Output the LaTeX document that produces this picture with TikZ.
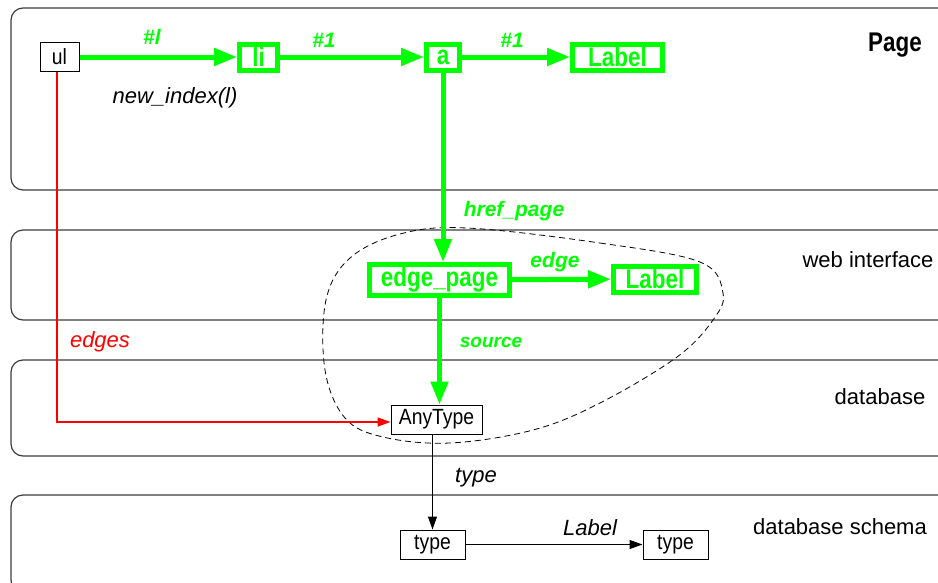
\documentclass[tikz,border=0pt]{standalone}
\usepackage{fontspec}
\setmainfont{Liberation Sans}
\newfontfamily\nodefont[FakeStretch=0.88]{Liberation Sans}
\newfontfamily\gboxfont[FakeStretch=0.83]{Liberation Sans}
\usetikzlibrary{arrows.meta}
\definecolor{grn}{RGB}{0,255,0}
\definecolor{rd}{RGB}{255,0,0}
\definecolor{lay}{RGB}{60,60,60}
\newcommand{\fs}[1]{\fontsize{#1}{#1}\selectfont}
\tikzset{
  layer/.style={draw=lay, line width=1.2pt, rounded corners=12pt},
  plainbox/.style={draw=black, line width=1pt, fill=white, inner sep=0pt, font=\nodefont\fs{22}, anchor=center},
  greenbox/.style={draw=grn, line width=5pt, fill=white, inner sep=0pt, text=grn, font=\gboxfont\fs{27}\bfseries, anchor=center},
  greenarrow/.style={draw=grn, line width=5pt, -{Triangle[length=23pt,width=17pt]}},
  blackarrow/.style={draw=black, line width=1pt, -{Triangle[length=13pt,width=9pt]}},
  redarrow/.style={draw=rd, line width=1.4pt, -{Triangle[length=13pt,width=9pt]}},
  glabel/.style={text=grn, font=\fs{21}\bfseries\itshape},
  ilabel/.style={font=\fs{22}\itshape},
  ltitle/.style={font=\fs{22}},
}
\begin{document}
\begin{tikzpicture}[x=1pt,y=-1pt]
\clip (0,0) rectangle (938,582);
\fill[white] (0,0) rectangle (938,582);
% layers
\draw[layer] (11,8) rectangle (950,190);
\draw[layer] (11,230) rectangle (950,320);
\draw[layer] (11,360) rectangle (950,456);
\draw[layer] (11,495) rectangle (950,592);
\node[font=\gboxfont\fs{27}\bfseries] (tpage) at (895,45) {Page};
\node[ltitle] (tweb) at (868,260) {web interface};
\node[ltitle] (tdb) at (880,397) {database};
\node[ltitle] (tschema) at (840,527) {database schema};
% dashed blob
\draw[dashed, line width=0.8pt, dash pattern=on 6pt off 4pt] plot[smooth cycle, tension=0.6] coordinates {
 (467,228) (600,243) (700,262) (723,293) (713,320) (677,357) (600,403) (533,430)
 (450,443) (383,437) (345,418) (325,370) (326,300) (350,258) (400,234)};
% nodes
\node[plainbox, minimum width=39pt, minimum height=29pt] (ul) at (59.5,57) {ul};
\node[greenbox, minimum width=38pt, minimum height=26pt] (li) at (258.5,57) {li};
\node[greenbox, minimum width=33pt, minimum height=26pt] (a) at (443,57) {a};
\node[greenbox, minimum width=90pt, minimum height=26pt] (lab1) at (617.5,57) {Label\hspace{12pt}};
\node[greenbox, minimum width=140pt, minimum height=31pt] (ep) at (439.5,280) {edge\_page};
\node[greenbox, minimum width=83pt, minimum height=26pt] (lab2) at (655,279) {Label\hspace{6pt}};
\node[plainbox, minimum width=91pt, minimum height=29pt] (any) at (436.5,419.5) {AnyType};
\node[plainbox, minimum width=65pt, minimum height=29pt] (ty1) at (432.5,544.5) {type};
\node[plainbox, minimum width=65pt, minimum height=29pt] (ty2) at (675.5,544.5) {type};
% red edge
\coordinate (rc) at (57,422);
\draw[redarrow] (ul.south -| rc) -- (rc) -- (any.west |- rc);
% green arrows
\draw[greenarrow] (ul) -- (li);
\draw[greenarrow] (li) -- (a);
\draw[greenarrow] (a) -- (lab1);
\draw[greenarrow] (a.south) -- (ep.north -| a.south);
\draw[greenarrow] (ep) -- (lab2);
\draw[greenarrow] (ep.south) -- (any.north -| ep.south);
% black arrows
\draw[blackarrow] (any.south -| ty1.north) -- (ty1.north);
\draw[blackarrow] (ty1) -- (ty2);
% labels
\node[glabel] (l1) at (152,37) {\#l};
\node[glabel] (l2) at (324,40) {\#1};
\node[glabel] (l3) at (512,40) {\#1};
\node[ilabel] (ni) at (175,98) {new\_index(l)};
\node[glabel] (hp) at (514,211) {href\_page};
\node[glabel] (ed) at (555,262) {edge};
\node[glabel, font=\fs{19}\bfseries\itshape] (src) at (491,342) {source};
\node[ilabel, text=rd] (eds) at (100,342) {edges};
\node[ilabel] (typ) at (476,478) {type};
\node[ilabel] (labl) at (590,528) {Label};
\end{tikzpicture}
\end{document}
